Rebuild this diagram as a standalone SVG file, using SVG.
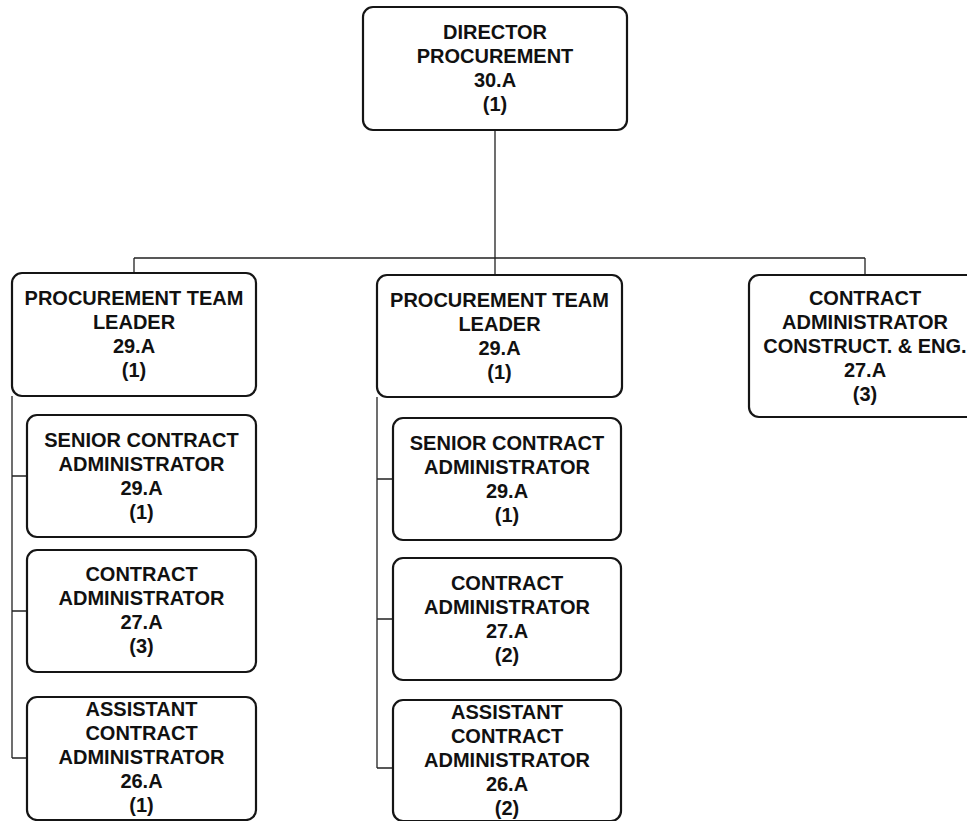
<svg xmlns="http://www.w3.org/2000/svg" width="967" height="821" viewBox="0 0 967 821">
<style>
.box{fill:#fff;stroke:#151515;stroke-width:2.2}
.t{font-family:"Liberation Sans",Arial,sans-serif;font-weight:bold;font-size:20px;fill:#111;text-anchor:middle}
.c{fill:none;stroke:#222;stroke-width:1.3}
</style>
<rect width="967" height="821" fill="#fff"/>
<g id="connectors">
<path class="c" d="M495 130V258M134 258H865M134 258V273M495 258V275M865 258V275"/>
<path class="c" d="M12 396V758M12 476H27M12 611H27M12 758H27"/>
<path class="c" d="M377 397V768M377 479H393M377 619H393M377 768H393"/>
</g>
<g id="director">
<rect class="box" x="363" y="7" width="264" height="123" rx="10"/>
<text class="t" x="495" y="39">DIRECTOR</text>
<text class="t" x="495" y="63">PROCUREMENT</text>
<text class="t" x="495" y="87">30.A</text>
<text class="t" x="495" y="111">(1)</text>
</g>
<g id="ptl-left">
<rect class="box" x="12" y="273" width="244" height="123" rx="10"/>
<text class="t" x="134" y="305">PROCUREMENT TEAM</text>
<text class="t" x="134" y="329">LEADER</text>
<text class="t" x="134" y="353">29.A</text>
<text class="t" x="134" y="377">(1)</text>
</g>
<g id="sca-left">
<rect class="box" x="27" y="415" width="229" height="122" rx="10"/>
<text class="t" x="141.5" y="446.5">SENIOR CONTRACT</text>
<text class="t" x="141.5" y="470.5">ADMINISTRATOR</text>
<text class="t" x="141.5" y="494.5">29.A</text>
<text class="t" x="141.5" y="518.5">(1)</text>
</g>
<g id="ca-left">
<rect class="box" x="27" y="550" width="229" height="122" rx="10"/>
<text class="t" x="141.5" y="581">CONTRACT</text>
<text class="t" x="141.5" y="605">ADMINISTRATOR</text>
<text class="t" x="141.5" y="629">27.A</text>
<text class="t" x="141.5" y="653">(3)</text>
</g>
<g id="aca-left">
<rect class="box" x="27" y="697" width="229" height="123" rx="10"/>
<text class="t" x="141.5" y="716">ASSISTANT</text>
<text class="t" x="141.5" y="740">CONTRACT</text>
<text class="t" x="141.5" y="764">ADMINISTRATOR</text>
<text class="t" x="141.5" y="788">26.A</text>
<text class="t" x="141.5" y="812">(1)</text>
</g>
<g id="ptl-mid">
<rect class="box" x="377" y="275" width="245" height="122" rx="10"/>
<text class="t" x="499.5" y="306.5">PROCUREMENT TEAM</text>
<text class="t" x="499.5" y="330.5">LEADER</text>
<text class="t" x="499.5" y="354.5">29.A</text>
<text class="t" x="499.5" y="378.5">(1)</text>
</g>
<g id="sca-mid">
<rect class="box" x="393" y="418" width="228" height="122" rx="10"/>
<text class="t" x="507" y="449.5">SENIOR CONTRACT</text>
<text class="t" x="507" y="473.5">ADMINISTRATOR</text>
<text class="t" x="507" y="497.5">29.A</text>
<text class="t" x="507" y="521.5">(1)</text>
</g>
<g id="ca-mid">
<rect class="box" x="393" y="558" width="228" height="122" rx="10"/>
<text class="t" x="507" y="589.5">CONTRACT</text>
<text class="t" x="507" y="613.5">ADMINISTRATOR</text>
<text class="t" x="507" y="637.5">27.A</text>
<text class="t" x="507" y="661.5">(2)</text>
</g>
<g id="aca-mid">
<rect class="box" x="393" y="700" width="228" height="121" rx="10"/>
<text class="t" x="507" y="719">ASSISTANT</text>
<text class="t" x="507" y="743">CONTRACT</text>
<text class="t" x="507" y="767">ADMINISTRATOR</text>
<text class="t" x="507" y="791">26.A</text>
<text class="t" x="507" y="815">(2)</text>
</g>
<g id="ca-construct">
<rect class="box" x="749" y="275" width="232" height="142" rx="10"/>
<text class="t" x="865" y="305">CONTRACT</text>
<text class="t" x="865" y="329">ADMINISTRATOR</text>
<text class="t" x="865" y="353">CONSTRUCT. &amp; ENG.</text>
<text class="t" x="865" y="377">27.A</text>
<text class="t" x="865" y="401">(3)</text>
</g>
</svg>
